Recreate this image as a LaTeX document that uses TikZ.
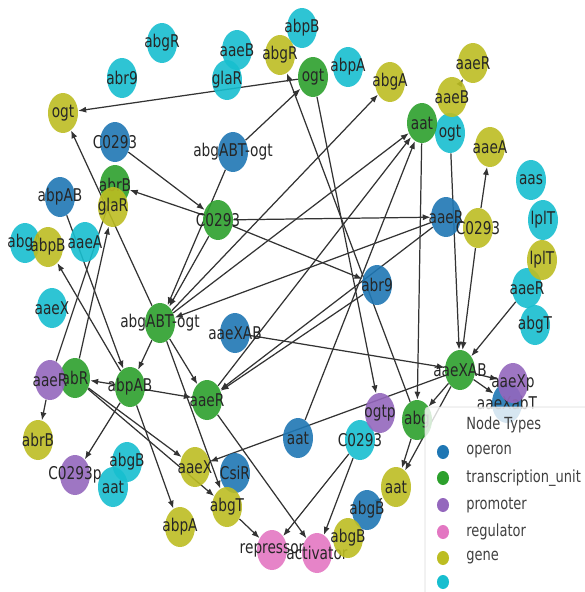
\documentclass[tikz,border=0pt]{standalone}
\usepackage{fontspec}
\newfontfamily\nxfont{DejaVu Sans}[FakeStretch=0.78]
\usetikzlibrary{shapes.geometric,arrows.meta}
\definecolor{tabblue}{HTML}{1F77B4}
\definecolor{tabgreen}{HTML}{2CA02C}
\definecolor{tabpurple}{HTML}{9467BD}
\definecolor{tabpink}{HTML}{E377C2}
\definecolor{tabolive}{HTML}{BCBD22}
\definecolor{tabcyan}{HTML}{17BECF}
\pgfdeclarelayer{background}
\pgfsetlayers{background,main}

\begin{document}
\begin{tikzpicture}[x=.02cm, y=-.02cm,
  vtx/.style={ellipse, minimum width=.6cm, minimum height=.8cm, inner sep=0pt, fill opacity=.9},
  vlab/.style={inner sep=0pt, text=black!85, font=\nxfont\fontsize{10}{12}\selectfont},
  nm/.style={label={[vlab]center:#1}},
  opr/.style={vtx, fill=tabblue},
  tu/.style={vtx, fill=tabgreen},
  prom/.style={vtx, fill=tabpurple},
  regl/.style={vtx, fill=tabpink},
  gene/.style={vtx, fill=tabolive},
  misc/.style={vtx, fill=tabcyan},
  edge/.style={draw=black!80, line width=.7pt, -{Latex[length=4.5pt,width=3.5pt]}},
  lgtxt/.style={anchor=west, inner sep=0pt, text=black!75, font=\nxfont\fontsize{9.5}{11}\selectfont},
  lgdot/.style={ellipse, minimum width=.24cm, minimum height=.28cm, inner sep=0pt},
]
\useasboundingbox (0,0) rectangle (585,592);

\node[misc, nm=abgR] (abgRc) at (162,43) {};
\node[misc, nm=abr9] (abr9c) at (122,78) {};
\node[misc, nm=aaeB] (aaeBc) at (237,50) {};
\node[misc, nm=glaR] (glaRc) at (227,80) {};
\node[misc, nm=abpB] (abpBc) at (302,28) {};
\node[misc, nm=abpA] (abpAc) at (348,67) {};
\node[misc, nm=ogt] (ogtc) at (450,133) {};
\node[misc, nm=aas] (aasc) at (531,180) {};
\node[misc, nm=lplT] (lplTc) at (543,220) {};
\node[misc, nm=aaeR] (aaeRc) at (527,288) {};
\node[misc, nm=abgT] (abgTc) at (535,325) {};
\node[misc, nm=abgA] (abgAc) at (25,243) {};
\node[misc, nm=aaeA] (aaeAc) at (85,242) {};
\node[misc, nm=aaeX] (aaeXc) at (52,308) {};
\node[misc, nm=abgB] (abgBc) at (127,462) {};
\node[misc, nm=aat] (aatc) at (113,487) {};
\node[misc, nm=C0293] (C0293c) at (360,440) {};

\node[opr, nm=C0293] (C0293b) at (115,142) {};
\node[opr, nm=abgABT-ogt] (abgABTogtb) at (233,152) {};
\node[opr, nm=abpAB] (abpABb) at (60,197) {};
\node[opr, nm=aaeR] (aaeRb) at (446,217) {};
\node[opr, nm=abr9] (abr9b) at (377,285) {};
\node[opr, nm=aaeXAB] (aaeXABb) at (235,333) {};
\node[opr, nm=aat] (aatb) at (298,438) {};
\node[opr, nm=CsiR] (CsiRb) at (235,473) {};
\node[opr, nm=abgB] (abgBb) at (367,510) {};
\node[opr, nm=aaeXabT] (aaeXabTb) at (507,403) {};

\node[tu, nm=ogt] (ogtg) at (313,77) {};
\node[tu, nm=aat] (aatg) at (422,123) {};
\node[tu, nm=abrB] (abrBg) at (115,185) {};
\node[tu, nm=C0293] (C0293g) at (218,220) {};
\node[tu, nm=abgABT-ogt] (abgABTogtg) at (160,323) {};
\node[tu, nm=abR] (abRg) at (75,378) {};
\node[tu, nm=abpAB] (abpABg) at (130,387) {};
\node[tu, nm=aaeR] (aaeRg) at (207,400) {};
\node[tu, nm=aaeXAB] (aaeXABg) at (460,370) {};
\node[tu, nm=abg] (abgg) at (417,420) {};

\node[prom, nm=aaeR] (aaeRp) at (50,380) {};
\node[prom, nm=C0293p] (C0293p) at (75,475) {};
\node[prom, nm=ogtp] (ogtp) at (380,413) {};
\node[prom, nm=aaeXp] (aaeXp) at (513,383) {};

\node[regl, nm=repressor] (repressor) at (272,550) {};
\node[regl, nm=activator] (activator) at (317,553) {};

\node[gene, nm=ogt] (ogty) at (63,113) {};
\node[gene, nm=abgR] (abgRy) at (280,55) {};
\node[gene, nm=abgA] (abgAy) at (390,82) {};
\node[gene, nm=aaeR] (aaeRy) at (473,63) {};
\node[gene, nm=aaeB] (aaeBy) at (452,97) {};
\node[gene, nm=aaeA] (aaeAy) at (490,147) {};
\node[gene, nm=C0293] (C0293y) at (478,228) {};
\node[gene, nm=lplT] (lplTy) at (542,260) {};
\node[gene, nm=glaR] (glaRy) at (113,207) {};
\node[gene, nm=abpB] (abpBy) at (48,247) {};
\node[gene, nm=abrB] (abrBy) at (38,440) {};
\node[gene, nm=aaeX] (aaeXy) at (195,467) {};
\node[gene, nm=abgT] (abgTy) at (227,507) {};
\node[gene, nm=abpA] (abpAy) at (180,527) {};
\node[gene, nm=abgB] (abgBy) at (348,538) {};
\node[gene, nm=aat] (aaty) at (396,487) {};

\begin{pgfonlayer}{background}
\draw[edge] (ogtg) -- (ogty);
\draw[edge] (abgABTogtg) -- (ogty);
\draw[edge] (abgABTogtb) -- (ogtg);
\draw[edge] (abgABTogtb) -- (abgABTogtg);
\draw[edge] (abgABTogtg) -- (abgAy);
\draw[edge] (abgABTogtg) -- (aatg);
\draw[edge] (aaeRg) -- (aatg);
\draw[edge] (aatb) -- (aatg);
\draw[edge] (aatg) -- (abgg);
\draw[edge] (ogtc) -- (aaeXABg);
\draw[edge] (C0293y) -- (aaeAy);
\draw[edge] (aaeBy) -- (aaeRy);
\draw[edge] (aaeRb) -- (C0293y);
\draw[edge] (C0293g) -- (aaeRb);
\draw[edge] (C0293y) -- (aaeXABg);
\draw[edge] (aaeXABg) -- (aaeXp);
\draw[edge] (aaeXABb) -- (aaeXABg);
\draw[edge] (C0293g) -- (abr9b);
\draw[edge] (abr9b) -- (aaeRg);
\draw[edge] (aaeRb) -- (aaeRg);
\draw[edge] (ogtg) -- (ogtp);
\draw[edge] (abgg) -- (abgRy);
\draw[edge] (abgTy) -- (repressor);
\draw[edge] (C0293c) -- (repressor);
\draw[edge] (C0293c) -- (activator);
\draw[edge] (aaeRg) -- (activator);
\draw[edge] (aaeXABg) -- (aaeXy);
\draw[edge] (abpABg) -- (abpAy);
\draw[edge] (abpABg) -- (C0293p);
\draw[edge] (aaeRp) -- (abrBy);
\draw[edge] (abpABg) -- (abRg);
\draw[edge] (abRg) -- (aaeXy);
\draw[edge] (abRg) -- (abgTy);
\draw[edge] (abgABTogtg) -- (abgTy);
\draw[edge] (abgABTogtg) -- (aaeRg);
\draw[edge] (abRg) -- (glaRy);
\draw[edge] (aaeRp) -- (abrBg);
\draw[edge] (abpABb) -- (abpABg);
\draw[edge] (abpABg) -- (abpBy);
\draw[edge] (C0293g) -- (abgABTogtg);
\draw[edge] (aaeRb) -- (abgABTogtg);
\draw[edge] (C0293g) -- (abrBg);
\draw[edge] (C0293b) -- (C0293g);
\draw[edge] (aaeRc) -- (aaeXABg);
\draw[edge] (aaeXABg) -- (aaty);
\draw[edge] (abgg) -- (aaty);
\draw[edge] (abgBb) -- (aaty);
\draw[edge] (aaeXABg) -- (aaeXabTb);
\draw[edge] (abpABg) -- (aaeRg);
\draw[edge] (abgABTogtg) -- (abpABg);
\draw[edge] (aaeXABg) -- (abgg);
\end{pgfonlayer}

\draw[draw=black!15, fill=white, fill opacity=.8, rounded corners=2pt] (425,407) rectangle (600,600);
\node[lgtxt] (lgtitle) at (466,425) {Node Types};
\node[lgdot, fill=tabblue] (lgop) at (443,452) {};
\node[lgtxt] (lgoptxt) at (466,452) {operon};
\node[lgdot, fill=tabgreen] (lgtu) at (443,478) {};
\node[lgtxt] (lgtutxt) at (466,478) {transcription\_unit};
\node[lgdot, fill=tabpurple] (lgprom) at (443,505) {};
\node[lgtxt] (lgpromtxt) at (466,505) {promoter};
\node[lgdot, fill=tabpink] (lgregl) at (443,532) {};
\node[lgtxt] (lgregltxt) at (466,532) {regulator};
\node[lgdot, fill=tabolive] (lggene) at (443,558) {};
\node[lgtxt] (lggenetxt) at (466,558) {gene};
\node[lgdot, fill=tabcyan] (lgmisc) at (443,582) {};
\end{tikzpicture}
\end{document}
